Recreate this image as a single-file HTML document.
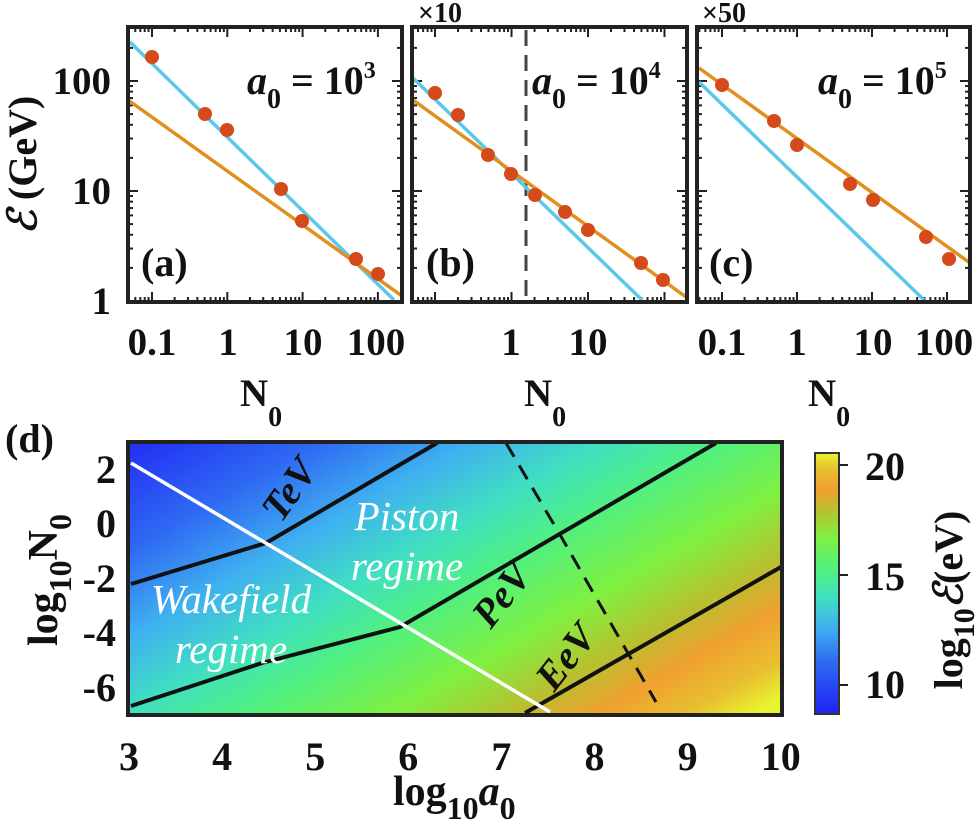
<!DOCTYPE html>
<html><head><meta charset="utf-8"><style>
body{margin:0;background:#fff}
svg text{font-family:"Liberation Serif",serif;font-weight:bold;fill:#111}
</style></head><body>
<svg id="s" width="979" height="832" viewBox="0 0 979 832" xmlns="http://www.w3.org/2000/svg">
<defs>
<linearGradient id="hm" gradientUnits="userSpaceOnUse" x1="150" y1="410" x2="430" y2="900">
<stop offset="0" stop-color="#1e22f5"/>
<stop offset="0.2" stop-color="#2f6af2"/>
<stop offset="0.33" stop-color="#3fb0f0"/>
<stop offset="0.45" stop-color="#40e0c0"/>
<stop offset="0.55" stop-color="#50f080"/>
<stop offset="0.68" stop-color="#80f040"/>
<stop offset="0.78" stop-color="#b8c030"/>
<stop offset="0.86" stop-color="#f0a030"/>
<stop offset="0.94" stop-color="#e8c030"/>
<stop offset="1" stop-color="#e8f530"/>
</linearGradient>
<linearGradient id="cb" x1="0" y1="1" x2="0" y2="0">
<stop offset="0" stop-color="#1e22f5"/>
<stop offset="0.2" stop-color="#2f6af2"/>
<stop offset="0.33" stop-color="#3fb0f0"/>
<stop offset="0.45" stop-color="#40e0c0"/>
<stop offset="0.55" stop-color="#50f080"/>
<stop offset="0.68" stop-color="#80f040"/>
<stop offset="0.78" stop-color="#b8c030"/>
<stop offset="0.86" stop-color="#f0a030"/>
<stop offset="0.94" stop-color="#e8c030"/>
<stop offset="1" stop-color="#e8f530"/>
</linearGradient>
</defs>
<g id="ticks"></g>
<!-- panel a -->
<line x1="130" y1="42" x2="394" y2="300" stroke="#5bc8ea" stroke-width="3.5"/>
<line x1="128" y1="100" x2="402" y2="296" stroke="#e0901e" stroke-width="3.5"/>
<g fill="#d44a1a">
<circle cx="152" cy="57" r="7"/><circle cx="205" cy="114" r="7"/><circle cx="227" cy="130" r="7"/><circle cx="281" cy="189" r="7"/><circle cx="302" cy="221" r="7"/><circle cx="356" cy="259" r="7"/><circle cx="378" cy="274" r="7"/>
</g>
<!-- panel b -->
<line x1="526" y1="30" x2="526" y2="300" stroke="#444" stroke-width="3" stroke-dasharray="16,9"/>
<line x1="413" y1="78" x2="642" y2="300" stroke="#5bc8ea" stroke-width="3.5"/>
<line x1="413" y1="100" x2="686" y2="297" stroke="#e0901e" stroke-width="3.5"/>
<g fill="#d44a1a">
<circle cx="435" cy="93" r="7"/><circle cx="458" cy="115" r="7"/><circle cx="488" cy="155" r="7"/><circle cx="511" cy="174" r="7"/><circle cx="535" cy="195" r="7"/><circle cx="565" cy="212" r="7"/><circle cx="588" cy="230" r="7"/><circle cx="641" cy="263" r="7"/><circle cx="663" cy="280" r="7"/>
</g>
<!-- panel c -->
<line x1="699" y1="82" x2="924" y2="300" stroke="#5bc8ea" stroke-width="3.5"/>
<line x1="699" y1="68" x2="970" y2="263" stroke="#e0901e" stroke-width="3.5"/>
<g fill="#d44a1a">
<circle cx="722" cy="85" r="7"/><circle cx="774" cy="121" r="7"/><circle cx="797" cy="145" r="7"/><circle cx="850" cy="184" r="7"/><circle cx="873" cy="200" r="7"/><circle cx="926" cy="237" r="7"/><circle cx="949" cy="259" r="7"/>
</g>
<g fill="none" stroke="#222" stroke-width="4">
<rect x="128" y="27" width="274" height="275"/>
<rect x="412" y="27" width="275" height="275"/>
<rect x="697" y="27" width="273" height="275"/>
</g>
<g font-size="39" text-anchor="end">
<text x="111" y="94">100</text><text x="111" y="204">10</text><text x="111" y="314">1</text>
</g>
<g font-size="39" text-anchor="middle">
<text x="152" y="355">0.1</text><text x="228" y="355">1</text><text x="303" y="355">10</text><text x="376" y="355">100</text>
<text x="511" y="355">1</text><text x="588" y="355">10</text>
<text x="722" y="355">0.1</text><text x="797" y="355">1</text><text x="873" y="355">10</text><text x="944" y="355">100</text>
</g>
<g font-size="39">
<text x="240" y="406">N<tspan font-size="28" dy="20">0</tspan></text>
<text x="524" y="406">N<tspan font-size="28" dy="20">0</tspan></text>
<text x="808" y="406">N<tspan font-size="28" dy="20">0</tspan></text>
</g>
<text font-size="28" x="418" y="22" font-weight="normal">×10</text>
<text font-size="28" x="702" y="22" font-weight="normal">×50</text>
<g font-size="40">
<text x="247" y="94"><tspan font-style="italic">a</tspan><tspan font-size="28" dy="14">0</tspan><tspan dy="-14"> = 10</tspan><tspan font-size="24" dy="-16">3</tspan></text>
<text x="532" y="94"><tspan font-style="italic">a</tspan><tspan font-size="28" dy="14">0</tspan><tspan dy="-14"> = 10</tspan><tspan font-size="24" dy="-16">4</tspan></text>
<text x="818" y="94"><tspan font-style="italic">a</tspan><tspan font-size="28" dy="14">0</tspan><tspan dy="-14"> = 10</tspan><tspan font-size="24" dy="-16">5</tspan></text>
<text x="141" y="276">(a)</text><text x="426" y="276">(b)</text><text x="709" y="276">(c)</text>
</g>
<text font-size="40" transform="translate(36,165) rotate(-90)" text-anchor="middle"><tspan font-style="italic" font-family="DejaVu Serif">ℰ</tspan> (GeV)</text>

<!-- panel d -->
<rect x="128" y="442" width="654" height="273" fill="url(#hm)"/>
<g fill="none" stroke="#111" stroke-width="4">
<polyline points="131,584 266,543 437,443"/>
<polyline points="131,706 262,663 400,627 716,443"/>
<polyline points="525,713 781,567"/>
</g>
<line x1="131" y1="463" x2="550" y2="712" stroke="#fff" stroke-width="3.5"/>
<polyline points="506,443 559,533 656,702" fill="none" stroke="#111" stroke-width="3" stroke-dasharray="16,10"/>
<g font-size="40" font-style="italic">
<text transform="translate(300,497) rotate(-55)" text-anchor="middle">TeV</text>
<text transform="translate(512,603) rotate(-52)" text-anchor="middle">PeV</text>
<text transform="translate(576,665) rotate(-52)" text-anchor="middle">EeV</text>
</g>
<g font-size="41" font-style="italic" font-weight="normal" text-anchor="middle">
<text x="407" y="530" style="fill:#fff;font-weight:normal">Piston</text>
<text x="407" y="580" style="fill:#fff;font-weight:normal">regime</text>
<text x="231" y="613" style="fill:#fff;font-weight:normal">Wakefield</text>
<text x="231" y="663" style="fill:#fff;font-weight:normal">regime</text>
</g>
<rect x="128" y="442" width="654" height="273" fill="none" stroke="#222" stroke-width="4"/>
<rect x="815" y="453" width="24" height="261" fill="url(#cb)" stroke="#333" stroke-width="2"/>
<g stroke="#222" stroke-width="2">
<line x1="839" y1="465" x2="848" y2="465"/><line x1="839" y1="575" x2="848" y2="575"/><line x1="839" y1="685" x2="848" y2="685"/>
</g>
<g font-size="40">
<text x="865" y="480">20</text>
<text x="865" y="590">15</text>
<text x="865" y="698">10</text>
</g>
<text font-size="40" transform="translate(962,600) rotate(-90)" text-anchor="middle">log<tspan font-size="30" dy="12">10</tspan><tspan dy="-12" font-style="italic" font-family="DejaVu Serif">ℰ</tspan>(eV)</text>
<g font-size="40" text-anchor="end">
<text x="116" y="483">2</text><text x="116" y="537">0</text><text x="116" y="592">-2</text><text x="116" y="646">-4</text><text x="116" y="701">-6</text>
</g>
<g font-size="40" text-anchor="middle" id="dx"></g>
<text font-size="42" x="393" y="805">log<tspan font-size="32" dy="14">10</tspan><tspan dy="-14" font-style="italic">a</tspan><tspan font-size="32" dy="14">0</tspan></text>
<text font-size="42" transform="translate(57,580) rotate(-90)" text-anchor="middle">log<tspan font-size="32" dy="14">10</tspan><tspan dy="-14">N</tspan><tspan font-size="32" dy="14">0</tspan></text>
<text font-size="40" x="5" y="452">(d)</text>
</svg>
<script>
var g=document.getElementById('ticks'),h='';
function L(a,b,c,d){h+='<line x1="'+a+'" y1="'+b+'" x2="'+c+'" y2="'+d+'" stroke="#222" stroke-width="2"/>';}
function panel(x0,x1,xr,dec){
 for(var k=0;k<3;k++)for(var m=1;m<10;m++){var y=301-110*(k+Math.log10(m));if(y<29)continue;var len=m==1?10:5;L(x0,y,x0+len,y);L(x1-len,y,x1,y);}
 for(var k=-2;k<3;k++)for(var m=1;m<10;m++){var x=xr+dec*(k+1+Math.log10(m));if(x<x0+2||x>x1-2)continue;var len=m==1?10:5;L(x,302,x,302-len);L(x,27,x,27+len);}
}
panel(128,402,152,75.3);panel(412,687,435,76.5);panel(697,970,722,75);
for(var i=3;i<=10;i++){var x=129+(i-3)*93.1;L(x,715,x,707);L(x,442,x,450);}
for(var j=-6;j<=2;j+=2){var y=442+(3-j)*27.3;L(128,y,136,y);L(782,y,774,y);}
g.innerHTML=h;
var dx='';for(var i=3;i<=10;i++){dx+='<text x="'+(129+(i-3)*93.1)+'" y="770">'+i+'</text>';}
document.getElementById('dx').innerHTML=dx;
</script>
</body></html>
